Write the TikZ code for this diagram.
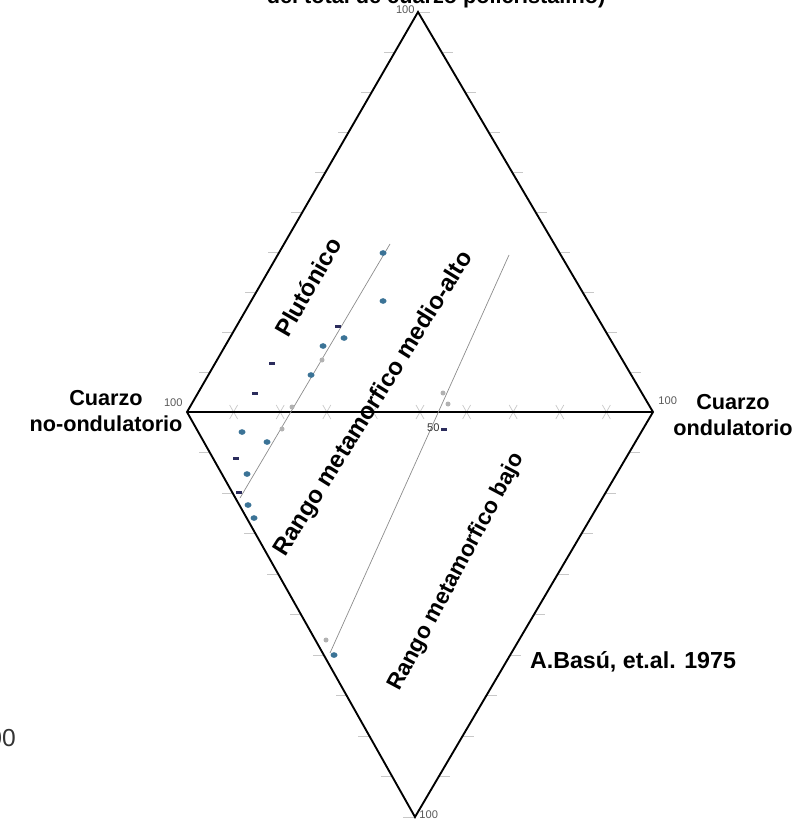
\documentclass[tikz,border=0pt]{standalone}
\usepackage{fontspec}
\setmainfont{Liberation Sans}
\usetikzlibrary{calc,shapes.geometric}

\definecolor{ondu}{HTML}{3B7396}
\definecolor{navy}{HTML}{2B2C5C}
\definecolor{ticks}{HTML}{C8C8C8}

\begin{document}
\begin{tikzpicture}[
x=0.03cm, y=-0.03cm,
label/.style={font=\bfseries\fontsize{18.5}{22}\selectfont, inner sep=0pt},
field/.style={font=\bfseries\fontsize{#1}{22}\selectfont, inner sep=0pt},
num/.style={font=\fontsize{9.5}{11}\selectfont, text=black!65, inner sep=1pt},
edge/.style={line width=1.6pt, line join=miter},
trend/.style={draw=black!45, line width=0.6pt},
tick/.style={draw=ticks, line width=0.6pt},
bluedot/.style={ellipse, fill=ondu, inner sep=0pt, minimum width=0.21cm, minimum height=0.17cm},
greydot/.style={circle, fill=black!30, inner sep=0pt, minimum size=0.15cm},
navydash/.style={rectangle, fill=navy, inner sep=0pt, minimum width=0.2cm, minimum height=0.09cm}
]
\useasboundingbox (0,0) rectangle (804,822);

% Corners of the diamond
\coordinate (top) at (418,12);
\coordinate (left) at (187,412);
\coordinate (right) at (653,412);
\coordinate (bottom) at (415,817);

% Ticks on the edges
\foreach \t in {0.1,0.2,...,0.95}{
  \draw [tick] ($(left)!\t!(top)$) -- ++(-11,0);
  \draw [tick] ($(right)!\t!(top)$) -- ++(11,0);
  \draw [tick] ($(left)!\t!(bottom)$) -- ++(-11,0);
  \draw [tick] ($(right)!\t!(bottom)$) -- ++(11,0);
  \draw [tick] ($(left)!\t!(right)$) ++(-4,-7) -- ++(8,14);
  \draw [tick] ($(left)!\t!(right)$) ++(4,-7) -- ++(-8,14);
}
\draw [tick] (top) -- ++(12,0);
\draw [tick] (bottom) -- ++(-12,0);

% Diamond
\draw [edge] (top) -- (right) -- (bottom) -- (left) -- cycle;
\draw [edge] (left) -- (right);

% Boundary lines
\coordinate (la) at (390,244);
\coordinate (lb) at (240,498);
\coordinate (ma) at (509,255);
\coordinate (mb) at (330,653);
\draw [trend] (la) -- (lb);
\draw [trend] (ma) -- (mb);

% Data points
\foreach \px/\py [count=\i] in {383/253, 383/301, 344/338, 323/346, 311/375, 242/432,
  267/442, 247/474, 248/505, 254/518, 334/655}
  \node [bluedot] (b\i) at (\px,\py) {};
\foreach \px/\py [count=\i] in {338/326, 272/363, 255/393, 236/458, 239/492, 444/429}
  \node [navydash] (n\i) at (\px,\py) {};
\foreach \px/\py [count=\i] in {322/360, 292/407, 282/429, 443/393, 448/404, 326/640}
  \node [greydot] (g\i) at (\px,\py) {};

% Scale numbers
\node [num, anchor=east] (ntop) at (416,10) {100};
\node [num, anchor=east] (nleft) at (184,403) {100};
\node [num, anchor=west] (nright) at (657,401) {100};
\node [num, anchor=west] (nbottom) at (418,815) {100};
\node [num, text=black!80, anchor=east] (nfifty) at (441,428) {50};
\node [font=\fontsize{21}{24}\selectfont, text=black!80, anchor=base east, inner sep=0pt] (nfar) at (16,746) {100};

% Titles
\node [label, anchor=base] (ttop) at (436,4) {del total de cuarzo policristalino)};
\node [label, align=center] (tleft) at (106,411) {Cuarzo\\no-ondulatorio};
\node [label, align=center] (tright) at (733,415) {Cuarzo\\ondulatorio};
\node [field=19.8] (tsource) at (633,662) {A.Basú, et.al. 1975};

% Fields
\node [field=20.5, rotate=60] (fplut) at (308,287) {Plutónico};
\node [field=20.5, rotate=58] (fmed) at (374,404) {Rango metamorfico medio-alto};
\node [field=19.3, rotate=62] (fbajo) at (457,572) {Rango metamorfico bajo};
\end{tikzpicture}
\end{document}
